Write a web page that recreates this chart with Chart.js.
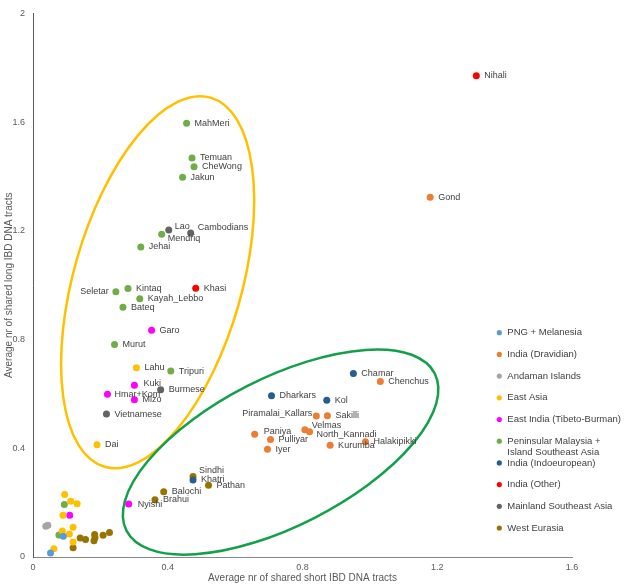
<!DOCTYPE html>
<html>
<head>
<meta charset="utf-8">
<script src="https://cdn.jsdelivr.net/npm/chart.js@4.4.0/dist/chart.umd.min.js"></script>
<style>
  html, body { margin: 0; padding: 0; background: #ffffff; }
  #wrap { position: relative; width: 624px; height: 587px; }
</style>
</head>
<body>
<div id="wrap"><canvas id="chart" width="624" height="587"></canvas></div>
<script>
// Population groups (legend order) and their marker colours
const groupNames = [
  'PNG + Melanesia',
  'India (Dravidian)',
  'Andaman Islands',
  'East Asia',
  'East India (Tibeto-Burman)',
  'Peninsular Malaysia +\nIsland Southeast Asia',
  'India (Indoeuropean)',
  'India (Other)',
  'Mainland Southeast Asia',
  'West Eurasia'
];
const groupColors = [
  '#5B9BD5', '#ED7D31', '#A5A5A5', '#FFC000', '#FF00FF',
  '#70AD47', '#255E91', '#FF0000', '#636363', '#997300'
];

// One entry per population: name, short IBD (x), long IBD (y), group index
const popNames = [
  'Nihali', 'Gond', 'MahMeri', 'Temuan', 'CheWong', 'Jakun', 'Lao', 'Cambodians',
  'Mendriq', 'Jehai', 'Kintaq', 'Seletar', 'Khasi', 'Kayah_Lebbo', 'Bateq', 'Garo',
  'Murut', 'Lahu', 'Tripuri', 'Kuki', 'Burmese', 'Hmar+Kom', 'Mizo', 'Vietnamese',
  'Dai', 'Chamar', 'Chenchus', 'Dharkars', 'Kol', 'Piramalai_Kallars', 'Sakilli',
  'Velmas', 'North_Kannadi', 'Paniya', 'Pulliyar', 'Iyer', 'Kurumba', 'Halakipikki',
  'Sindhi', 'Khatri', 'Pathan', 'Balochi', 'Brahui', 'Nyishi',
  '', '', '', '', '', '', '', '', '', '', '', '', '', '', '', '', '', '', '', '', '', '', '', ''
];
const shortIBD = [
  1.316, 1.179, 0.456, 0.472, 0.478, 0.444, 0.403, 0.468,
  0.382, 0.320, 0.282, 0.246, 0.483, 0.317, 0.267, 0.352,
  0.242, 0.307, 0.409, 0.301, 0.379, 0.221, 0.301, 0.218,
  0.190, 0.951, 1.031, 0.708, 0.872, 0.841, 0.874,
  0.807, 0.821, 0.658, 0.705, 0.696, 0.882, 0.987,
  0.475, 0.475, 0.521, 0.388, 0.362, 0.284,
  0.094, 0.112, 0.131, 0.093, 0.089, 0.109, 0.038, 0.044, 0.119, 0.087, 0.077, 0.090,
  0.108, 0.119, 0.119, 0.062, 0.052, 0.140, 0.156, 0.183, 0.184, 0.181, 0.208, 0.227
];
const longIBD = [
  1.771, 1.324, 1.596, 1.468, 1.436, 1.397, 1.203, 1.192,
  1.187, 1.141, 0.988, 0.976, 0.989, 0.950, 0.919, 0.834,
  0.782, 0.696, 0.684, 0.632, 0.615, 0.599, 0.579, 0.526,
  0.413, 0.675, 0.646, 0.593, 0.577, 0.519, 0.520,
  0.468, 0.461, 0.452, 0.432, 0.396, 0.411, 0.424,
  0.296, 0.283, 0.264, 0.240, 0.211, 0.195,
  0.230, 0.205, 0.196, 0.193, 0.154, 0.154, 0.113, 0.117, 0.109, 0.096, 0.081, 0.076,
  0.085, 0.055, 0.034, 0.030, 0.015, 0.070, 0.064, 0.083, 0.072, 0.060, 0.080, 0.090
];
const popGroup = [
  7, 1, 5, 5, 5, 5, 8, 8,
  5, 5, 5, 5, 7, 5, 5, 4,
  5, 3, 5, 4, 8, 4, 4, 8,
  3, 6, 1, 6, 6, 1, 1,
  1, 1, 1, 1, 1, 1, 1,
  9, 6, 9, 9, 9, 4,
  3, 3, 3, 5, 3, 4, 2, 2, 3, 3, 5, 0,
  3, 3, 9, 3, 0, 9, 9, 9, 9, 9, 9, 9
];

// Axis ticks
const xTicks = [0, 0.4, 0.8, 1.2, 1.6];
const yTicks = [0, 0.4, 0.8, 1.2, 1.6, 2];

// Label placement tweaks (dx, dy, align); default is right of the dot
const labelPlacement = {
  'Lao': [6, -4], 'Cambodians': [7, -5], 'Mendriq': [6, 4],
  'Seletar': [-7, 0, 'right'], 'Kuki': [9, -2], 'Hmar+Kom': [7, 0],
  'Piramalai_Kallars': [-4, -2, 'right'], 'Velmas': [7, -4], 'North_Kannadi': [7, 3],
  'Paniya': [9, -3], 'Sindhi': [6, -6], 'Khatri': [8, -1], 'Nyishi': [9, 1]
};

// Hand-drawn group outlines (centre in data units, radii in px, rotation in degrees)
const outlines = [
  { cx: 0.370, cy: 1.011, rx: 192, ry: 84, rot: -74, color: '#FFC000' },
  { cx: 0.735, cy: 0.386, rx: 173, ry: 74, rot: -27, color: '#13A04A' }
];

const FONT = "'Liberation Sans', Arial, sans-serif";

const datasets = groupNames.map((g, gi) => ({
  label: g,
  data: popNames
    .map((n, i) => ({ x: shortIBD[i], y: longIBD[i], name: n, g: popGroup[i] }))
    .filter(p => p.g === gi),
  backgroundColor: groupColors[gi],
  borderColor: groupColors[gi],
  borderWidth: 0,
  pointRadius: 3.5,
  pointHoverRadius: 3.5
}));

const outlinePlugin = {
  id: 'outlines',
  beforeDatasetsDraw(chart) {
    const { ctx, scales: { x, y } } = chart;
    ctx.save();
    outlines.forEach(o => {
      ctx.beginPath();
      ctx.ellipse(x.getPixelForValue(o.cx), y.getPixelForValue(o.cy),
        o.rx, o.ry, o.rot * Math.PI / 180, 0, Math.PI * 2);
      ctx.strokeStyle = o.color;
      ctx.lineWidth = 2.5;
      ctx.stroke();
    });
    ctx.restore();
  }
};

const pointLabelPlugin = {
  id: 'pointLabels',
  afterDatasetsDraw(chart) {
    const ctx = chart.ctx;
    ctx.save();
    ctx.font = '9px ' + FONT;
    ctx.fillStyle = '#404040';
    ctx.textBaseline = 'middle';
    chart.data.datasets.forEach((ds, di) => {
      const meta = chart.getDatasetMeta(di);
      ds.data.forEach((p, i) => {
        if (!p.name) return;
        const el = meta.data[i];
        const pl = labelPlacement[p.name] || [8, 0, 'left'];
        ctx.textAlign = pl[2] || 'left';
        ctx.fillText(p.name, el.x + pl[0], el.y + pl[1]);
      });
    });
    ctx.restore();
  }
};

const sideLegendPlugin = {
  id: 'sideLegend',
  afterDraw(chart) {
    const ctx = chart.ctx;
    const left = chart.chartArea.right - 72.7;
    const top = 332.7;
    const step = 21.7;
    ctx.save();
    ctx.font = '9.5px ' + FONT;
    ctx.textBaseline = 'middle';
    ctx.textAlign = 'left';
    groupNames.forEach((g, i) => {
      const yy = top + i * step;
      ctx.beginPath();
      ctx.arc(left, yy, 2.6, 0, Math.PI * 2);
      ctx.fillStyle = groupColors[i];
      ctx.fill();
      ctx.fillStyle = '#404040';
      g.split('\n').forEach((line, li) => ctx.fillText(line, left + 8, yy + li * 11.5));
    });
    ctx.restore();
  }
};

new Chart(document.getElementById('chart'), {
  type: 'scatter',
  data: { datasets },
  options: {
    responsive: false,
    animation: false,
    events: [],
    layout: { padding: { top: 7, right: 52, left: 0, bottom: 0 } },
    plugins: {
      legend: { display: false },
      tooltip: { enabled: false }
    },
    scales: {
      x: {
        type: 'linear', min: 0, max: 1.6,
        afterBuildTicks: s => { s.ticks = xTicks.map(v => ({ value: v })); },
        ticks: {
          color: '#595959', font: { family: FONT, size: 9 }, padding: 5,
          callback: v => String(v)
        },
        grid: { display: false, drawTicks: false },
        border: { color: '#868686', width: 1 },
        title: {
          display: true, text: 'Average nr of shared short IBD DNA tracts',
          color: '#595959', font: { family: FONT, size: 10 }, padding: { top: 2, bottom: 3 }
        },
        afterFit: s => { s.height = 30; }
      },
      y: {
        type: 'linear', min: 0, max: 2,
        afterBuildTicks: s => { s.ticks = yTicks.map(v => ({ value: v })); },
        ticks: {
          color: '#595959', font: { family: FONT, size: 9 }, padding: 8,
          callback: v => String(v)
        },
        grid: { display: false, drawTicks: false },
        border: { color: '#595959', width: 1 },
        title: {
          display: true, text: 'Average nr of shared long IBD DNA tracts',
          color: '#595959', font: { family: FONT, size: 10 }, padding: { top: 3, bottom: 0 }
        },
        afterFit: s => { s.width = 33; }
      }
    }
  },
  plugins: [outlinePlugin, pointLabelPlugin, sideLegendPlugin]
});
</script>
</body>
</html>
